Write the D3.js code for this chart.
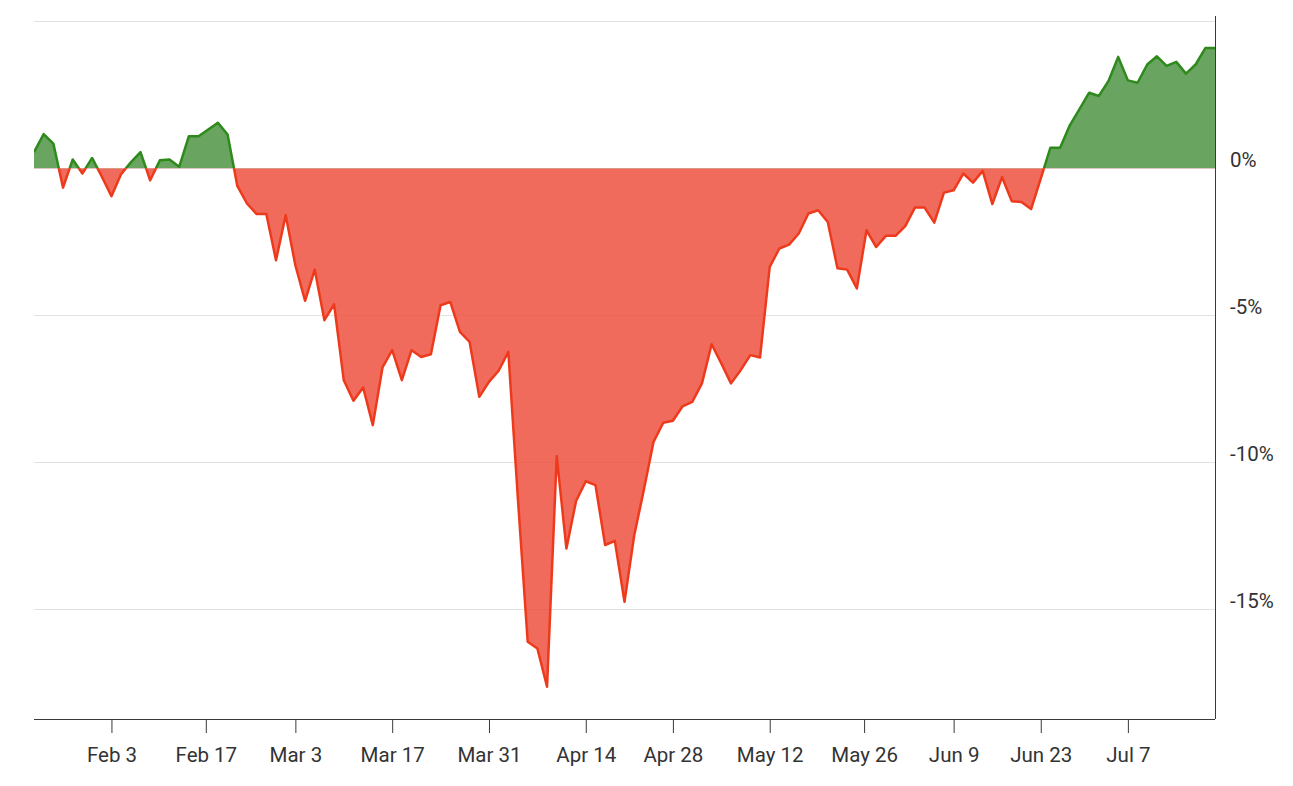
<!DOCTYPE html>
<html>
<head>
<meta charset="utf-8">
<script src="https://cdn.jsdelivr.net/npm/d3@7"></script>
<style>
    body { margin: 0; background: #fff; }
    svg { display: block; font-family: Roboto, 'Noto Sans', sans-serif; }
    .grid line { stroke: #e2e2e2; stroke-width: 1; }
    .axis path, .axis line { stroke: #3a3a3a; }
    .axis text { fill: #333; font-size: 20.5px; font-family: Roboto, sans-serif; }
</style>
</head>
<body>
<svg id="chart" width="1293" height="786"></svg>
<script>
// trading calendar, Jan 22 - Jul 18 2025
var startDay = '2025-01-22',
    endDay = '2025-07-18';
var holidays = ['2025-02-17', '2025-04-18', '2025-05-26', '2025-06-19', '2025-07-04'];

// percent change, one per trading day
var changes = [
    0.55, 1.16, 0.84, -0.66, 0.30, -0.18, 0.35, -0.28, -0.95, -0.20,
    0.20, 0.55, -0.41, 0.27, 0.30, 0.05, 1.09, 1.09, 1.32, 1.55,
    1.15, -0.60, -1.20, -1.56, -1.56, -3.13, -1.60, -3.30, -4.51, -3.45,
    -5.17, -4.63, -7.21, -7.91, -7.46, -8.74, -6.78, -6.19, -7.21, -6.19,
    -6.42, -6.33, -4.66, -4.55, -5.57, -5.91, -7.78, -7.27, -6.89, -6.25,
    -11.30, -16.11, -16.34, -17.64, -9.80, -12.94, -11.32, -10.65, -10.78, -12.82,
    -12.68, -14.75, -12.50, -10.94, -9.31, -8.66, -8.59, -8.10, -7.95, -7.32,
    -5.99, -6.64, -7.32, -6.87, -6.36, -6.44, -3.36, -2.73, -2.60, -2.22,
    -1.54, -1.43, -1.83, -3.40, -3.45, -4.09, -2.11, -2.68, -2.30, -2.30,
    -1.97, -1.34, -1.34, -1.85, -0.83, -0.75, -0.18, -0.49, -0.09, -1.22,
    -0.30, -1.12, -1.15, -1.39, -0.35, 0.70, 0.70, 1.46, 2.01, 2.57,
    2.46, 2.97, 3.79, 2.99, 2.91, 3.53, 3.81, 3.48, 3.62, 3.22,
    3.53, 4.09, 4.09
];

var tickDays = ['2025-02-03', '2025-02-17', '2025-03-03', '2025-03-17', '2025-03-31', '2025-04-14',
    '2025-04-28', '2025-05-12', '2025-05-26', '2025-06-09', '2025-06-23', '2025-07-07'];
var gridValues = [5, 0, -5, -10, -15];
var labelValues = [0, -5, -10, -15];

var parse = d3.utcParse('%Y-%m-%d');
var fmt = d3.utcFormat('%Y-%m-%d');

var days = d3.utcDay.range(parse(startDay), d3.utcDay.offset(parse(endDay), 1))
    .filter(d => d.getUTCDay() % 6 !== 0 && holidays.indexOf(fmt(d)) < 0);

var data = days.map((d, i) => ({date: d, value: changes[i]}));

var svg = d3.select('#chart');
var plotLeft = 34, plotRight = 1215, plotTop = 16, plotBottom = 719;

// piecewise scale: every trading day gets the same width, gaps collapse
var step = (plotRight - plotLeft) / (days.length - 1);
var x = d3.scaleUtc()
    .domain(days)
    .range(days.map((d, i) => plotLeft + i * step))
    .clamp(true);

var y = d3.scaleLinear()
    .domain([-18.74, 5.18])
    .range([plotBottom, plotTop]);

var y0 = y(0);

svg.append('g')
    .classed('grid', true)
    .selectAll('line')
    .data(gridValues)
    .enter().append('line')
        .attr('x1', plotLeft)
        .attr('x2', plotRight)
        .attr('y1', d => Math.round(y(d)) + 0.5)
        .attr('y2', d => Math.round(y(d)) + 0.5);

var defs = svg.append('defs');
defs.append('clipPath').attr('id', 'clip-up')
    .append('rect')
        .attr('x', plotLeft).attr('y', 0)
        .attr('width', plotRight - plotLeft).attr('height', y0);
defs.append('clipPath').attr('id', 'clip-down')
    .append('rect')
        .attr('x', plotLeft).attr('y', y0)
        .attr('width', plotRight - plotLeft).attr('height', plotBottom - y0);

var area = d3.area()
    .x(d => x(d.date))
    .y0(y0)
    .y1(d => y(d.value));

var line = d3.line()
    .x(d => x(d.date))
    .y(d => y(d.value));

var parts = [
    {clip: 'clip-up', fill: '#4f9444', stroke: '#2f8a1c'},
    {clip: 'clip-down', fill: '#ed513e', stroke: '#ee3a1c'},
];

parts.forEach(function(p) {
    var g = svg.append('g').attr('clip-path', 'url(#' + p.clip + ')');
    g.append('path')
        .datum(data)
        .attr('d', area)
        .attr('fill', p.fill)
        .attr('fill-opacity', 0.85);
    g.append('path')
        .datum(data)
        .attr('d', line)
        .attr('fill', 'none')
        .attr('stroke', p.stroke)
        .attr('stroke-width', 2.5)
        .attr('stroke-linejoin', 'round');
});

svg.append('g')
    .classed('axis', true)
    .attr('transform', 'translate(0,' + plotBottom + ')')
    .call(d3.axisBottom(x)
        .tickValues(tickDays.map(parse))
        .tickFormat(d3.utcFormat('%b %-d'))
        .tickSize(14)
        .tickSizeOuter(0)
        .tickPadding(14))
    .call(g => g.select('.domain').attr('d', 'M' + plotLeft + ',0.5H' + plotRight));

svg.append('g')
    .classed('axis', true)
    .attr('transform', 'translate(' + plotRight + ',0)')
    .call(d3.axisRight(y)
        .tickValues(labelValues)
        .tickFormat(d => d + '%')
        .tickSize(0)
        .tickPadding(15))
    .call(g => g.select('.domain').attr('d', 'M0.5,' + plotTop + 'V' + plotBottom))
    .call(g => g.selectAll('text').attr('dy', '-0.08em'));
</script>
</body>
</html>
